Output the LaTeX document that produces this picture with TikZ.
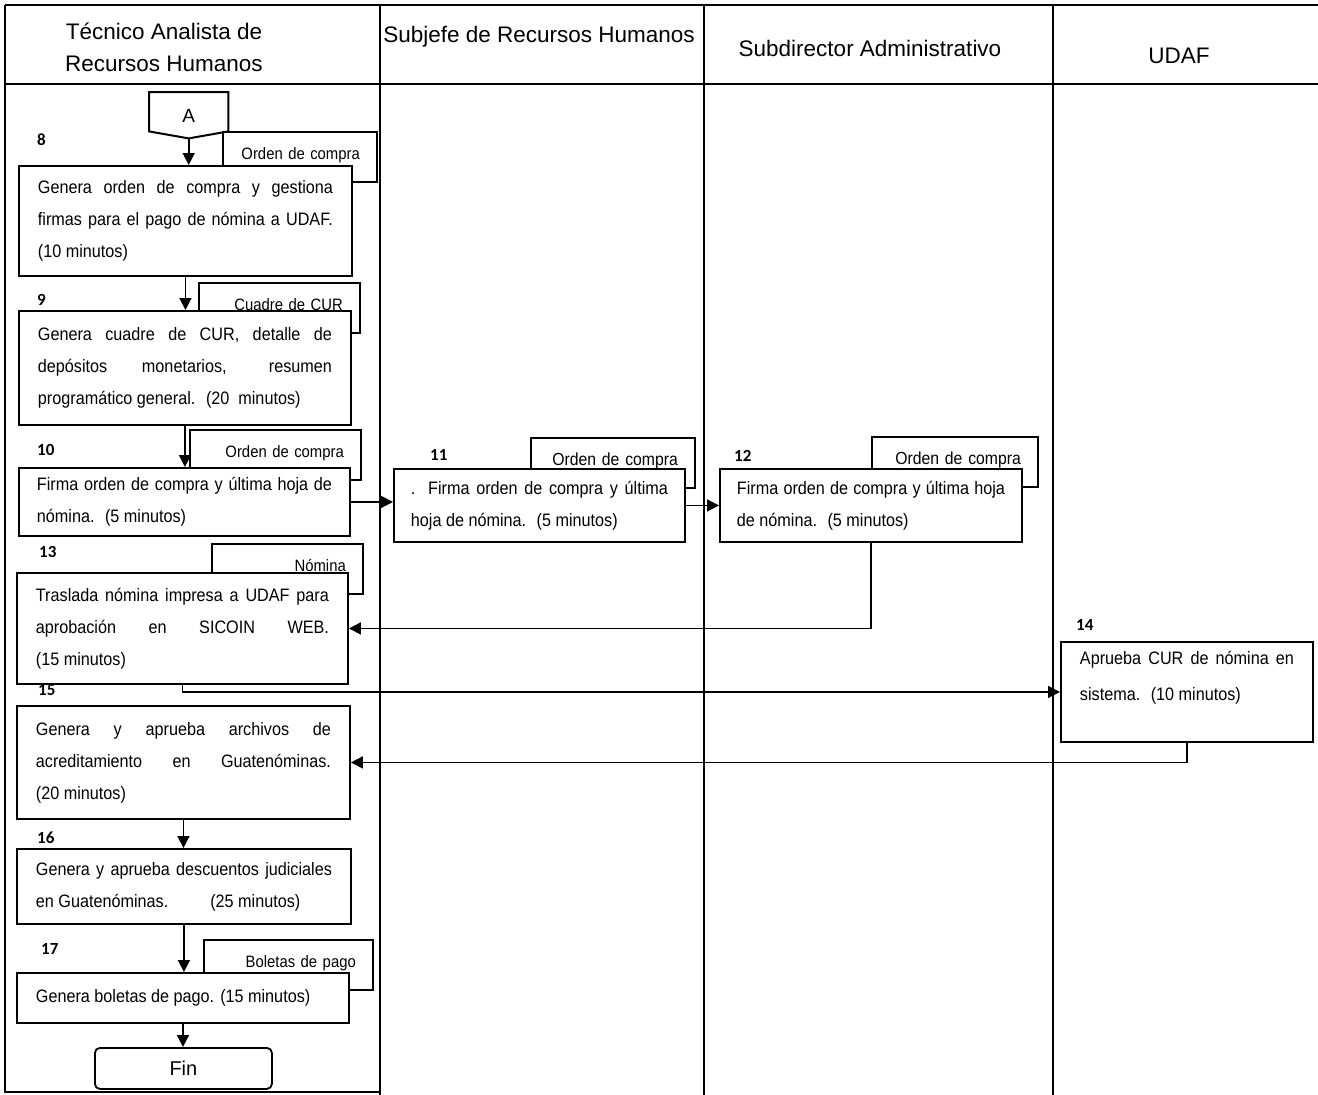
\documentclass[tikz,border=0pt]{standalone}
\usepackage{fontspec}
\setmainfont{Liberation Sans}
\newfontfamily\bodyf[FakeStretch=0.9]{Liberation Sans}
\newfontfamily\numf{Carlito}
\usetikzlibrary{arrows.meta}
\tolerance=10000 \hbadness=10000 \hyphenpenalty=10000 \exhyphenpenalty=10000
\begin{document}
\begin{tikzpicture}[x=1pt,y=-1pt,
 lane/.style={line width=1.5pt},
 procbox/.style={draw, line width=1.9pt, fill=white, anchor=north west, inner xsep=19pt, inner ysep=0pt, align=justify, font=\bodyf\fontsize{18}{32}\selectfont},
 docbox/.style={draw, line width=1.6pt, fill=white, anchor=north west, inner xsep=17pt, inner ysep=0pt, align=right, font=\bodyf\fontsize{16.5}{20}\selectfont, text height=28pt, text depth=22pt},
 stepnum/.style={anchor=west, font=\numf\bfseries\fontsize{17}{18}\selectfont, inner sep=0pt},
 head/.style={font=\fontsize{22.5}{32}\selectfont, align=center, inner sep=0pt},
 flow/.style={line width=1.6pt, -{Triangle[length=12pt,width=12pt]}},
]
\useasboundingbox (0,0) rectangle (1318,1095);
% lanes
\draw[lane] (5,5) -- (1318,5);
\draw[lane] (5,84) -- (1318,84);
\draw[lane] (5,5) -- (5,1092) -- (380,1092);
\draw[lane] (380,5) -- (380,1095);
\draw[lane] (704,5) -- (704,1095);
\draw[lane] (1053,5) -- (1053,1095);
% headers
\node[head] (h1) at (164,47) {Técnico Analista de\\Recursos Humanos};
\node[head] (h2) at (539,37) {Subjefe de Recursos Humanos};
\node[head] (h3) at (870,48) {Subdirector Administrativo};
\node[head] (h4) at (1179,56) {UDAF};
% documents
\node[docbox, text width=120pt] (d8) at (222,131) {\mbox{Orden de compra}};
\node[docbox, text width=127pt] (d9) at (198,282) {\mbox{Cuadre de CUR}};
\node[docbox, text width=137pt] (d10) at (189,429) {\mbox{Orden de compra}};
\node[docbox, text width=130pt, font=\bodyf\fontsize{17.5}{20}\selectfont] (d11) at (530,437) {\mbox{Orden de compra}};
\node[docbox, text width=132pt, font=\bodyf\fontsize{17.5}{20}\selectfont] (d12) at (871,436) {\mbox{Orden de compra}};
\node[docbox, text width=117pt] (d13) at (211,543) {\mbox{Nómina}};
\node[docbox, text width=135pt] (d17) at (203,939) {\mbox{Boletas de pago}};
% off-page connector
\node[minimum width=79pt, minimum height=39pt, anchor=north west, inner sep=0pt, text height=22pt, text depth=0pt, font=\fontsize{19}{22}\selectfont] (A) at (149,92) {A};
\coordinate (Atip) at ([yshift=-7pt]A.south);
\draw[line width=2pt] (A.north west) -- (A.north east) -- (A.south east) -- (Atip) -- (A.south west) -- cycle;
% process boxes
\node[procbox, text width=295pt, minimum height=110pt] (b8) at (18,165) {Genera orden de compra y gestiona\linebreak firmas para el pago de nómina a UDAF.\linebreak (10 minutos)};
\node[procbox, text width=294pt, minimum height=114pt] (b9) at (18,310) {Genera cuadre de CUR, detalle de\linebreak depósitos monetarios, resumen\linebreak programático general.~ (20~ minutos)};
\node[procbox, text width=295pt, minimum height=68pt, inner xsep=18pt] (b10) at (18,467) {Firma orden de compra y última hoja de\linebreak nómina.~ (5 minutos)};
\node[procbox, text width=257pt, minimum height=73pt, inner xsep=17pt] (b11) at (393,468) {. Firma orden de compra y última\linebreak hoja de nómina.~ (5 minutos)};
\node[procbox, text width=268pt, minimum height=73pt, inner xsep=17pt] (b12) at (719,468) {Firma orden de compra y última hoja\linebreak de nómina.~ (5 minutos)};
\node[procbox, text width=293pt, minimum height=111pt] (b13) at (16,572) {Traslada nómina impresa a UDAF para\linebreak aprobación en SICOIN WEB.\linebreak (15 minutos)};
\node[procbox, text width=214pt, minimum height=100pt] (b14) at (1060,641) {\vspace*{4pt}Aprueba CUR de nómina en\linebreak sistema.~ (10 minutos)\par\mbox{}};
\node[procbox, text width=295pt, minimum height=113pt] (b15) at (16,705) {Genera y aprueba archivos de\linebreak acreditamiento en Guatenóminas.\linebreak (20 minutos)};
\node[procbox, text width=296pt, minimum height=75pt] (b16) at (16,848) {Genera y aprueba descuentos judiciales\linebreak en Guatenóminas.\hspace*{42pt}(25 minutos)};
\node[procbox, text width=294pt, minimum height=50pt] (b17) at (16,972) {Genera boletas de pago. (15 minutos)};
\node[draw, line width=1.8pt, rounded corners=5pt, minimum width=177pt, minimum height=41pt, anchor=north west, inner sep=0pt, font=\fontsize{20}{24}\selectfont] (fin) at (94,1047) {Fin};
% step numbers
\node[stepnum] (n8) at (37,140) {8};
\node[stepnum] (n9) at (37,300) {9};
\node[stepnum] (n10) at (37,450) {10};
\node[stepnum] (n11) at (430,455) {11};
\node[stepnum] (n12) at (734,456) {12};
\node[stepnum] (n13) at (39,552) {13};
\node[stepnum] (n14) at (1076,625) {14};
\node[stepnum] (n15) at (38,690) {15};
\node[stepnum] (n16) at (37,838) {16};
\node[stepnum] (n17) at (41,949) {17};
% connectors
\draw[flow] (Atip) -- (Atip |- b8.north);
\draw[flow] (b8.south) -- (b8.south |- b9.north);
\draw[flow] (b9.south) -- (b9.south |- b10.north);
\draw[flow] (b10.east) -- (b10.east -| b11.west);
\draw[flow] (b11.east) -- (b11.east -| b12.west);
\draw[flow] (b12.south) |- (b13.east);
\draw[flow] (b13.south) |- (b14.west);
\draw[flow] (b14.south) |- (b15.east);
\draw[flow] (b15.south) -- (b15.south |- b16.north);
\draw[flow] (b16.south) -- (b16.south |- b17.north);
\draw[flow] (b17.south) -- (b17.south |- fin.north);
\end{tikzpicture}
\end{document}
